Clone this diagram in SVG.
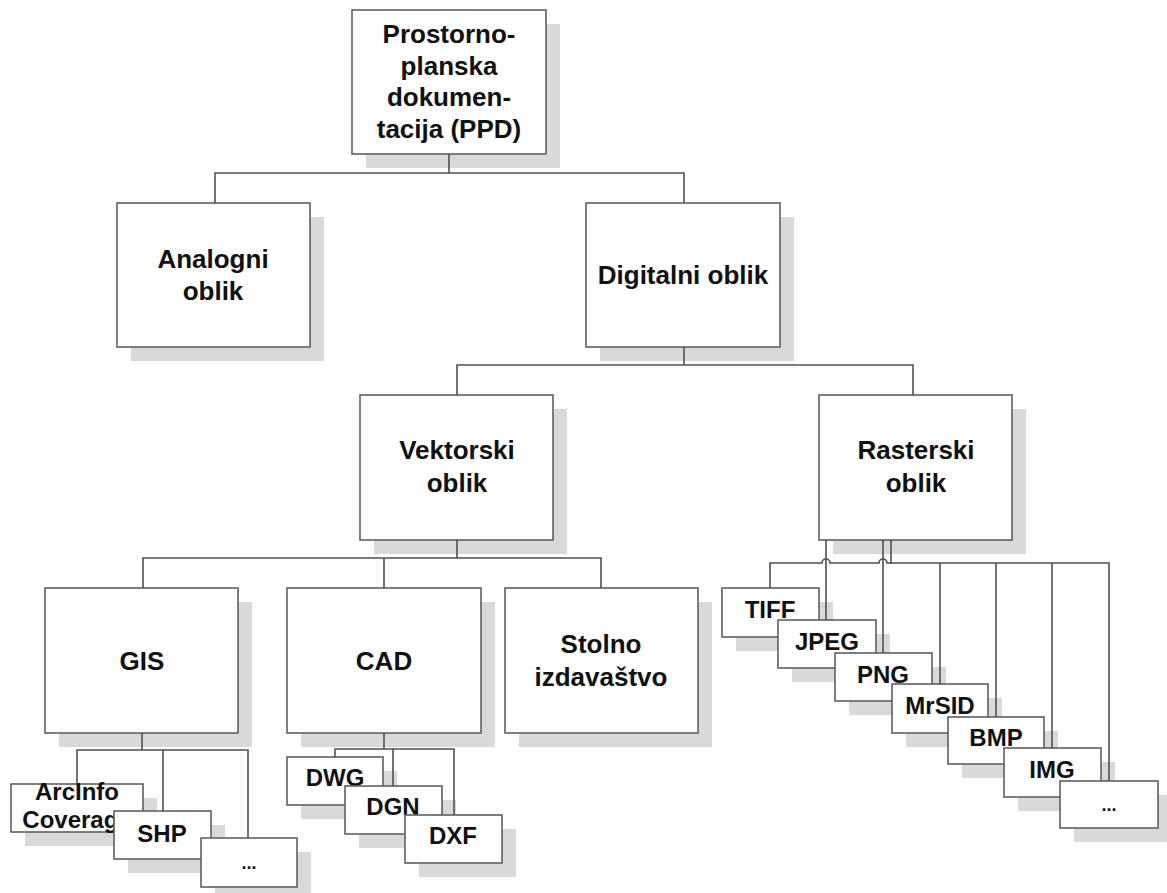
<svg xmlns="http://www.w3.org/2000/svg" width="1167" height="893" viewBox="0 0 1167 893">
<style>
.sh{fill:#d9d9d9;stroke:none}
.bx{fill:#fff;stroke:#606060;stroke-width:1.6}
.t{font-family:"Liberation Sans",Arial,sans-serif;font-weight:bold;font-size:24px;fill:#111;text-anchor:middle}
.b{font-family:"Liberation Sans",Arial,sans-serif;font-weight:bold;font-size:26px;fill:#111;text-anchor:middle}
.d{font-family:"Liberation Sans",Arial,sans-serif;font-weight:bold;font-size:18px;fill:#111;text-anchor:middle}
.c{fill:none;stroke:#505050;stroke-width:1.6}
</style>
<rect width="1167" height="893" fill="#fff"/>
<g id="nodes">
<g id="ppd"><rect class="sh" x="366" y="24" width="194" height="144"/><rect class="bx" x="352" y="10" width="194" height="144"/>
<text class="b" x="449" y="43">Prostorno-</text><text class="b" x="449" y="75">planska</text><text class="b" x="449" y="106">dokumen-</text><text class="b" x="449" y="138">tacija (PPD)</text></g>
<g id="analogni"><rect class="sh" x="131" y="217" width="193" height="144"/><rect class="bx" x="117" y="203" width="193" height="144"/>
<text class="b" x="213" y="268">Analogni</text><text class="b" x="213" y="300">oblik</text></g>
<g id="digitalni"><rect class="sh" x="600" y="217" width="194" height="144"/><rect class="bx" x="586" y="203" width="194" height="144"/>
<text class="b" x="683" y="284">Digitalni oblik</text></g>
<g id="vektorski"><rect class="sh" x="374" y="409" width="193" height="145"/><rect class="bx" x="360" y="395" width="193" height="145"/>
<text class="b" x="457" y="459">Vektorski</text><text class="b" x="457" y="492">oblik</text></g>
<g id="rasterski"><rect class="sh" x="833" y="409" width="193" height="145"/><rect class="bx" x="819" y="395" width="193" height="145"/>
<text class="b" x="916" y="459">Rasterski</text><text class="b" x="916" y="492">oblik</text></g>
<g id="gis"><rect class="sh" x="59" y="602" width="193" height="145"/><rect class="bx" x="45" y="588" width="193" height="145"/>
<text class="b" x="142" y="670">GIS</text></g>
<g id="cad"><rect class="sh" x="301" y="602" width="194" height="145"/><rect class="bx" x="287" y="588" width="194" height="145"/>
<text class="b" x="384" y="670">CAD</text></g>
<g id="stolno"><rect class="sh" x="519" y="602" width="193" height="145"/><rect class="bx" x="505" y="588" width="193" height="145"/>
<text class="b" x="601" y="653">Stolno</text><text class="b" x="601" y="686">izdavaštvo</text></g>
<g id="arcinfo"><rect class="sh" x="25" y="798" width="132" height="48"/><rect class="bx" x="11" y="784" width="132" height="48"/>
<text class="t" x="77" y="800">ArcInfo</text><text class="t" x="77" y="828">Coverage</text></g>
<g id="shp"><rect class="sh" x="128" y="825" width="97" height="48"/><rect class="bx" x="114" y="811" width="97" height="48"/>
<text class="t" x="162" y="842">SHP</text></g>
<g id="gis-more"><rect class="sh" x="215" y="852" width="96" height="49"/><rect class="bx" x="201" y="838" width="96" height="49"/>
<text class="d" x="249" y="869">...</text></g>
<g id="dwg"><rect class="sh" x="301" y="771" width="96" height="48"/><rect class="bx" x="287" y="757" width="96" height="48"/>
<text class="t" x="335" y="786">DWG</text></g>
<g id="dgn"><rect class="sh" x="359" y="800" width="97" height="48"/><rect class="bx" x="345" y="786" width="97" height="48"/>
<text class="t" x="393" y="815">DGN</text></g>
<g id="dxf"><rect class="sh" x="419" y="829" width="97" height="48"/><rect class="bx" x="405" y="815" width="97" height="48"/>
<text class="t" x="453" y="844">DXF</text></g>
<g id="tiff"><rect class="sh" x="736" y="602" width="97" height="49"/><rect class="bx" x="722" y="588" width="97" height="49"/>
<text class="t" x="770" y="618">TIFF</text></g>
<g id="jpeg"><rect class="sh" x="792" y="634" width="98" height="48"/><rect class="bx" x="778" y="620" width="98" height="48"/>
<text class="t" x="827" y="650">JPEG</text></g>
<g id="png"><rect class="sh" x="849" y="667" width="97" height="48"/><rect class="bx" x="835" y="653" width="97" height="48"/>
<text class="t" x="883" y="683">PNG</text></g>
<g id="mrsid"><rect class="sh" x="906" y="698" width="96" height="49"/><rect class="bx" x="892" y="684" width="96" height="49"/>
<text class="t" x="940" y="714">MrSID</text></g>
<g id="bmp"><rect class="sh" x="962" y="731" width="96" height="47"/><rect class="bx" x="948" y="717" width="96" height="47"/>
<text class="t" x="996" y="746">BMP</text></g>
<g id="img"><rect class="sh" x="1018" y="762" width="97" height="49"/><rect class="bx" x="1004" y="748" width="97" height="49"/>
<text class="t" x="1052" y="778">IMG</text></g>
<g id="raster-more"><rect class="sh" x="1074" y="795" width="98" height="47"/><rect class="bx" x="1060" y="781" width="98" height="47"/>
<text class="d" x="1109" y="811">...</text></g>
</g>
<g id="connectors">
<path class="c" d="M449,154V173M215,203V173H684V203"/>
<path class="c" d="M684,347V365M457,395V365H913V395"/>
<path class="c" d="M457,540V558M143,588V558H601V588M384,558V588"/>
<path class="c" d="M142,733V750M77,784V750H248V838M163,750V811"/>
<path class="c" d="M384,733V749M335,757V749H454V815M393,749V786"/>
<path class="c" d="M826,540V620M883,540V653"/>
<path class="c" d="M891,540V563H887A4,4 0 0 0 879,563H830A4,4 0 0 0 822,563H770V588"/>
<path class="c" d="M891,563H1109V781M940,563V684M996,563V717M1052,563V748"/>
</g>
</svg>
